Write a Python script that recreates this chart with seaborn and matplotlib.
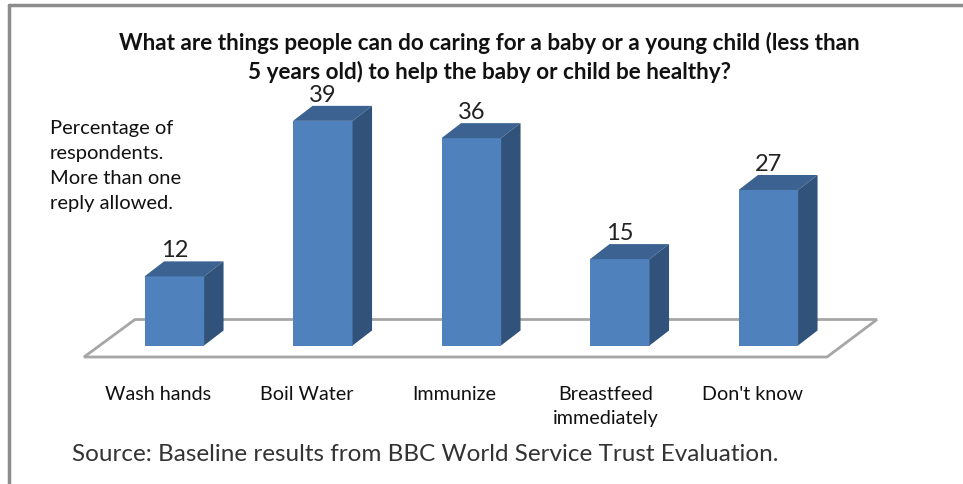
import matplotlib
matplotlib.use("Agg")
import matplotlib.pyplot as plt
from matplotlib.lines import Line2D
from matplotlib.patches import Polygon
import pandas as pd
import seaborn as sns

categories = ["Wash hands", "Boil Water", "Immunize", "Breastfeed\nimmediately", "Don't know"]
percentages = [12, 39, 36, 15, 27]
title = ("What are things people can do caring for a baby or a young child (less than\n"
         "5 years old) to help the baby or child be healthy?")
note = "Percentage of\nrespondents.\nMore than one\nreply allowed."
source = "Source: Baseline results from BBC World Service Trust Evaluation."

FRONT, TOP, SIDE = "#4f81bd", "#3c6291", "#31527b"
FLOOR_EDGE, FRAME = "#a6a6a6", "#8c8c8c"
W, H = 963, 484

# Pixel layout of the plot: bar spacing, value scale and origin
STEP, UNIT, X0, BASE = 148.5, 5.76, 174.3, 345.5
BAR_W = 59.5 / STEP
DX, DY = 19.5 / STEP, 15 / UNIT   # receding depth of the 3-D boxes

sns.set_theme(style="white")
plt.rcParams["font.family"] = ["Lato", "DejaVu Sans"]

fig = plt.figure(figsize=(W / 100, H / 100), dpi=100, facecolor="white")
ax = fig.add_axes([0, 0, 1, 1])

df = pd.DataFrame({"reply": categories, "pct": percentages})
sns.barplot(data=df, x="reply", y="pct", color=FRONT, saturation=1, width=BAR_W,
            ax=ax, zorder=3, linewidth=0)

ax.set_xlim(-X0 / STEP, (W - X0) / STEP)
ax.set_ylim(-(H - BASE) / UNIT, BASE / UNIT)
ax.set_axis_off()


def px(x_px, y_px):
    return (x_px - X0) / STEP, (BASE - y_px) / UNIT


# Floor of the chart
ax.add_patch(Polygon([px(84, 357), px(827, 357), px(877, 319.5), px(135, 319.5)],
                     closed=True, facecolor="white", edgecolor=FLOOR_EDGE, lw=2, zorder=1))

# Top and side faces, plus value labels
for i, v in enumerate(percentages):
    l, r = i - BAR_W / 2, i + BAR_W / 2
    ax.add_patch(Polygon([(l, v), (r, v), (r + DX, v + DY), (l + DX, v + DY)],
                         closed=True, facecolor=TOP, edgecolor="none", zorder=3))
    ax.add_patch(Polygon([(r, 0), (r + DX, DY), (r + DX, v + DY), (r, v)],
                         closed=True, facecolor=SIDE, edgecolor="none", zorder=3))
    ax.text(i, v + DY, str(v), ha="center", va="bottom", fontsize=17, color="#222222", zorder=4)

# Category labels
label_px = [158, 307, 454, 606, 752]
for x_px, c in zip(label_px, categories):
    x, y = px(x_px, 386)
    ax.text(x, y, c, ha="center", va="top", fontsize=14.2, color="#111111", linespacing=1.52)

fig.text(489.5 / W, 1 - 32 / H, title, ha="center", va="top", fontsize=16.2, fontweight="bold",
         color="#111111", linespacing=1.38)
fig.text(50 / W, 1 - 120 / H, note, ha="left", va="top", fontsize=14.5, color="#111111", linespacing=1.58)
fig.text(72 / W, 1 - 444 / H, source, ha="left", va="top", fontsize=17.5, color="#333333")

# Page frame along the top and left edges
fig.add_artist(Line2D([9 / W, 1], [1 - 5 / H, 1 - 5 / H], color=FRAME, lw=2.5))
fig.add_artist(Line2D([9 / W, 9 / W], [0, 1 - 5 / H], color=FRAME, lw=2.5))

fig.savefig("out.png", dpi=100)
